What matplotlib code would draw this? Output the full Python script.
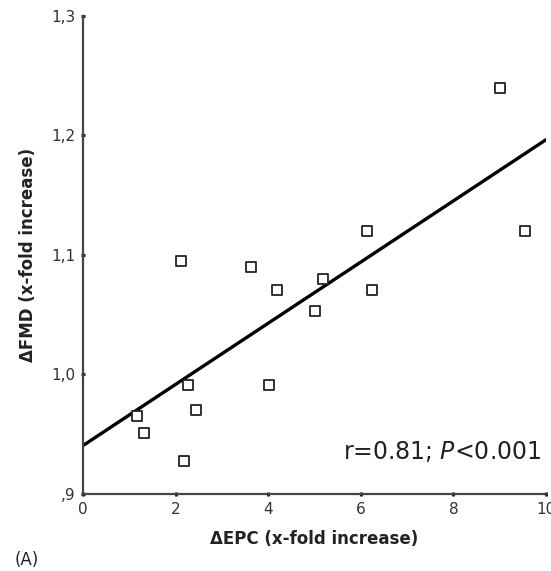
import matplotlib
matplotlib.use("Agg")
import matplotlib.pyplot as plt

# dados: variação de EPC vs variação de FMD
epc = [1.16, 1.31, 2.19, 2.11, 2.26, 2.43, 3.62, 4.02, 4.18, 5.18, 5.01, 6.14, 6.24, 9.01, 9.54]
fmd = [0.965, 0.951, 0.928, 1.095, 0.991, 0.970, 1.090, 0.991, 1.071, 1.080, 1.053, 1.120, 1.071, 1.240, 1.120]

# reta de regressão (intercepto e inclinação)
intercepto = 0.9405
inclinacao = 0.0256

xticks = [0, 2, 4, 6, 8, 10]
yticks = [0.9, 1.0, 1.1, 1.2, 1.3]
ytick_labels = [",9", "1,0", "1,1", "1,2", "1,3"]

plt.rcParams['font.family'] = ['DejaVu Sans']

fig = plt.figure(figsize=(5.51, 5.71), dpi=100)
ax = fig.add_axes([0.1506, 0.1349, 0.8404, 0.8371])

ax.scatter(epc, fmd, marker='s', s=50, facecolors='white', edgecolors='#222222',
           linewidths=1.3, zorder=3)

xs = [0, 10]
ys = [intercepto + inclinacao * x for x in xs]
ax.plot(xs, ys, color='black', linewidth=2.4, solid_capstyle='round', zorder=2)

ax.set_xlim(0, 10)
ax.set_ylim(0.9, 1.3)
ax.set_xticks(xticks)
ax.set_yticks(yticks)
ax.set_yticklabels(ytick_labels)

for lado in ['top', 'right']:
    ax.spines[lado].set_visible(False)
for lado in ['left', 'bottom']:
    ax.spines[lado].set_linewidth(1.6)
    ax.spines[lado].set_color('#444444')

ax.tick_params(axis='both', direction='inout', length=3, width=2.2, color='#222222',
               labelsize=11, labelcolor='#333333', pad=4)

ax.set_xlabel("ΔEPC (x-fold increase)", fontsize=12, fontweight='bold', color='#222222', labelpad=10)
ax.set_ylabel("ΔFMD (x-fold increase)", fontsize=12, fontweight='bold', color='#222222', labelpad=10)

ax.text(0.99, 0.088, r"r=0.81; $\it{P}$<0.001", transform=ax.transAxes,
        ha='right', va='center', fontsize=17, color='#222222')

fig.text(0.027, 0.0193, "(A)", fontsize=12, color='#222222', va='center')

fig.savefig("out.png", dpi=100)
